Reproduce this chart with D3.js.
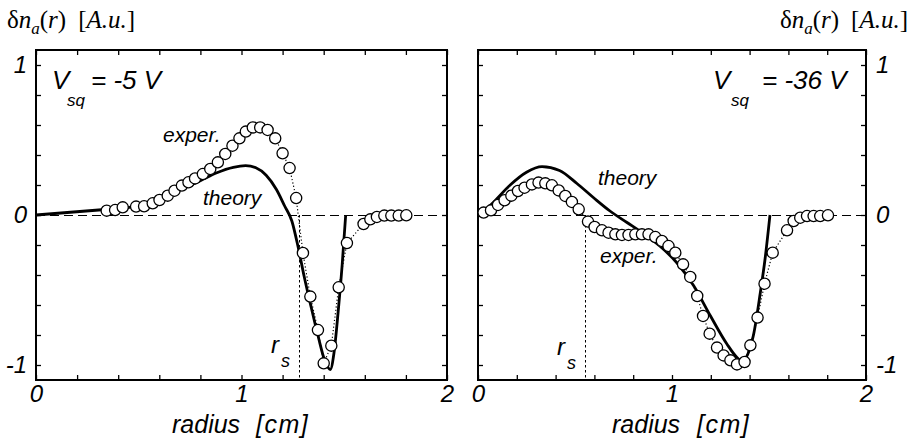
<!DOCTYPE html>
<html>
<head>
<meta charset="utf-8">
<script src="https://cdn.jsdelivr.net/npm/d3@7/dist/d3.min.js"></script>
<style>
  html, body { margin: 0; padding: 0; background: #fff; }
  svg { display: block; }
</style>
</head>
<body>
<svg id="chart" width="911" height="441"></svg>
<script>
// ---------- DATA ----------
const xTickLabels = [0, 1, 2];
const yTickLabels = [-1, 0, 1];
const minorTicksX = [0, 0.2, 0.4, 0.6, 0.8, 1, 1.2, 1.4, 1.6, 1.8, 2];
const minorTicksY = [-1, -0.8, -0.6, -0.4, -0.2, 0, 0.2, 0.4, 0.6, 0.8, 1];

const leftLabel = "-5 V";
const rightLabel = "-36 V";
const leftRs = 1.28;
const rightRs = 0.553;

const leftExpR = [0.344,0.385,0.422,0.487,0.526,0.568,0.601,0.641,0.674,0.710,0.742,0.774,0.812,0.848,0.885,0.921,0.956,0.990,1.021,1.055,1.091,1.127,1.164,1.200,1.234,1.266,1.299,1.335,1.372,1.400,1.437,1.473,1.513,1.594,1.627,1.659,1.695,1.729,1.765,1.802];
const leftExpN = [0.029,0.033,0.051,0.056,0.058,0.078,0.100,0.129,0.162,0.196,0.218,0.244,0.273,0.307,0.351,0.407,0.462,0.511,0.556,0.584,0.584,0.567,0.511,0.411,0.313,0.113,-0.253,-0.544,-0.767,-0.989,-0.871,-0.482,-0.187,-0.060,-0.029,-0.013,-0.004,-0.004,-0.004,-0.002];

const leftTheoryR = [0, 0.32, 0.45, 0.57, 0.64, 0.70, 0.80, 0.88, 0.96, 1.02, 1.07, 1.12, 1.17, 1.21, 1.245, 1.275, 1.305, 1.34, 1.375, 1.405, 1.432, 1.45, 1.47, 1.49, 1.507];
const leftTheoryN = [0, 0.035, 0.05, 0.085, 0.125, 0.167, 0.229, 0.282, 0.318, 0.329, 0.315, 0.265, 0.17, 0.06, -0.04, -0.21, -0.41, -0.62, -0.82, -0.97, -1.03, -0.92, -0.65, -0.33, 0.0];

const rightExpR = [0.029,0.067,0.103,0.137,0.172,0.206,0.240,0.278,0.312,0.347,0.381,0.416,0.450,0.484,0.519,0.567,0.601,0.639,0.673,0.708,0.742,0.776,0.811,0.845,0.879,0.914,0.948,0.982,1.017,1.057,1.094,1.130,1.160,1.194,1.232,1.266,1.301,1.335,1.374,1.404,1.441,1.477,1.519,1.593,1.627,1.661,1.696,1.730,1.764,1.804];
const rightExpN = [0.016,0.031,0.067,0.098,0.129,0.160,0.182,0.204,0.216,0.211,0.198,0.164,0.127,0.087,0.038,-0.044,-0.080,-0.102,-0.118,-0.129,-0.133,-0.133,-0.129,-0.129,-0.129,-0.147,-0.173,-0.207,-0.251,-0.329,-0.413,-0.540,-0.673,-0.791,-0.884,-0.936,-0.969,-0.996,-0.980,-0.869,-0.684,-0.458,-0.251,-0.102,-0.040,-0.018,-0.007,-0.007,-0.007,-0.002];

const rightTheoryR = [0.01, 0.08, 0.166, 0.25, 0.33, 0.42, 0.51, 0.596, 0.682, 0.768, 0.854, 0.94, 1.026, 1.111, 1.197, 1.283, 1.335, 1.36, 1.39, 1.42, 1.455, 1.48, 1.505];
const rightTheoryN = [0.0, 0.085, 0.2, 0.285, 0.322, 0.297, 0.21, 0.115, 0.025, -0.05, -0.125, -0.21, -0.32, -0.47, -0.67, -0.86, -0.95, -0.975, -0.93, -0.8, -0.52, -0.29, 0.0];

// ---------- DRAW ----------
const svg = d3.select("#chart");
const sans = "'Liberation Sans', Arial, Helvetica, sans-serif";
const serif = "'Liberation Serif', 'Times New Roman', serif";

const panels = [
  { x0: 36, x1: 447, yAxisSide: "left", expR: leftExpR, expN: leftExpN, thR: leftTheoryR, thN: leftTheoryN,
    rs: leftRs, vlabel: leftLabel, vx: 52, sqx: 67, veqx: 91, exper: [163, 142], theory: [203, 205], rsPos: [271, 353],
    radX: 172, cmX: 256, yTitleX: 7, yTitleAnchor: "start" },
  { x0: 478, x1: 866, yAxisSide: "right", expR: rightExpR, expN: rightExpN, thR: rightTheoryR, thN: rightTheoryN,
    rs: rightRs, vlabel: rightLabel, vx: 713, sqx: 731, veqx: 762, exper: [600, 263], theory: [598, 185], rsPos: [557, 355],
    radX: 612, cmX: 697, yTitleX: 908, yTitleAnchor: "end" }
];

const yTop = 50, yBot = 380;

panels.forEach(p => {
  const x = d3.scaleLinear().domain([0, 2]).range([p.x0, p.x1]);
  const y = d3.scaleLinear().domain([-1.1, 1.1]).range([yBot, yTop]);
  const g = svg.append("g");

  // zero dashed line
  g.append("line")
    .attr("x1", x(0)).attr("x2", x(2)).attr("y1", y(0) + 0.5).attr("y2", y(0) + 0.5)
    .attr("stroke", "#000").attr("stroke-width", 1).attr("stroke-dasharray", "9,5");

  // r_s dotted vertical
  g.append("line")
    .attr("x1", Math.round(x(p.rs)) + 0.5).attr("x2", Math.round(x(p.rs)) + 0.5).attr("y1", y(0)).attr("y2", yBot)
    .attr("stroke", "#000").attr("stroke-width", 1).attr("stroke-dasharray", "2.5,2.5");

  // minor ticks (inward) via d3 axes
  const tickStyle = sel => {
    sel.select(".domain").remove();
    sel.selectAll(".tick line").attr("stroke", "#000").attr("stroke-width", 1.3);
    sel.selectAll(".tick text").remove();
  };
  g.append("g").attr("transform", `translate(0,${yBot})`)
    .call(d3.axisBottom(x).tickValues(minorTicksX).tickSize(-5)).call(tickStyle);
  g.append("g").attr("transform", `translate(0,${yTop})`)
    .call(d3.axisTop(x).tickValues(minorTicksX).tickSize(-5)).call(tickStyle);
  g.append("g").attr("transform", `translate(${p.x0},0)`)
    .call(d3.axisLeft(y).tickValues(minorTicksY).tickSize(-5)).call(tickStyle);
  g.append("g").attr("transform", `translate(${p.x1},0)`)
    .call(d3.axisRight(y).tickValues(minorTicksY).tickSize(-5)).call(tickStyle);

  // tick labels
  const labStyle = sel => {
    sel.select(".domain").remove();
    sel.selectAll(".tick line").remove();
    sel.selectAll(".tick text").attr("font-family", sans).attr("font-style", "italic")
      .attr("font-size", 24).attr("fill", "#000");
  };
  g.append("g").attr("transform", `translate(0,${yBot})`)
    .call(d3.axisBottom(x).tickValues(xTickLabels).tickSize(0).tickPadding(5).tickFormat(d => String(d)))
    .call(labStyle);
  if (p.yAxisSide === "left") {
    g.append("g").attr("transform", `translate(${p.x0},0)`)
      .call(d3.axisLeft(y).tickValues(yTickLabels).tickSize(0).tickPadding(9).tickFormat(d => String(d)))
      .call(labStyle);
  } else {
    g.append("g").attr("transform", `translate(${p.x1},0)`)
      .call(d3.axisRight(y).tickValues(yTickLabels).tickSize(0).tickPadding(10).tickFormat(d => String(d)))
      .call(labStyle);
  }

  // frame
  g.append("rect").attr("x", p.x0).attr("y", yTop).attr("width", p.x1 - p.x0).attr("height", yBot - yTop)
    .attr("fill", "none").attr("stroke", "#000").attr("stroke-width", 2);

  // experimental dotted connector
  const expPts = p.expR.map((r, i) => [r, p.expN[i]]);
  const thPts = p.thR.map((r, i) => [r, p.thN[i]]);
  g.append("path").datum(expPts)
    .attr("d", d3.line().x(d => x(d[0])).y(d => y(d[1])))
    .attr("fill", "none").attr("stroke", "#000").attr("stroke-width", 1.2).attr("stroke-dasharray", "1.2,2.2");

  // theory line
  g.append("path").datum(thPts)
    .attr("d", d3.line().x(d => x(d[0])).y(d => y(d[1])).curve(d3.curveMonotoneX))
    .attr("fill", "none").attr("stroke", "#000").attr("stroke-width", 2.8).attr("stroke-linejoin", "round");

  // circles
  g.selectAll("circle.exp").data(expPts).enter().append("circle")
    .attr("class", "exp")
    .attr("cx", d => x(d[0])).attr("cy", d => y(d[1])).attr("r", 5.6)
    .attr("fill", "#fff").attr("stroke", "#000").attr("stroke-width", 1.3);

  // V_sq label
  g.append("text").attr("x", p.vx).attr("y", 89).attr("font-family", sans).attr("font-style", "italic")
    .attr("font-size", 26).text("V");
  g.append("text").attr("x", p.sqx).attr("y", 106).attr("font-family", sans).attr("font-style", "italic")
    .attr("font-size", 17).text("sq");
  g.append("text").attr("x", p.veqx).attr("y", 89).attr("font-family", sans).attr("font-style", "italic")
    .attr("font-size", 26).text("= " + p.vlabel);

  // exper / theory labels
  g.append("text").attr("x", p.exper[0]).attr("y", p.exper[1]).attr("font-family", sans).attr("font-style", "italic")
    .attr("font-size", 21).text("exper.");
  g.append("text").attr("x", p.theory[0]).attr("y", p.theory[1]).attr("font-family", sans).attr("font-style", "italic")
    .attr("font-size", 21).text("theory");

  // r_s label
  g.append("text").attr("x", p.rsPos[0]).attr("y", p.rsPos[1]).attr("font-family", sans).attr("font-style", "italic")
    .attr("font-size", 24).text("r");
  g.append("text").attr("x", p.rsPos[0] + 10).attr("y", p.rsPos[1] + 14).attr("font-family", sans).attr("font-style", "italic")
    .attr("font-size", 18).text("s");

  // x title
  g.append("text").attr("x", p.radX).attr("y", 433)
    .attr("font-family", sans).attr("font-style", "italic").attr("font-size", 25).text("radius");
  g.append("text").attr("x", p.cmX).attr("y", 433)
    .attr("font-family", sans).attr("font-style", "italic").attr("font-size", 25)
    .attr("letter-spacing", 1.5).text("[cm]");

  // y title
  const t = g.append("text").attr("x", p.yTitleX).attr("y", 28).attr("text-anchor", p.yTitleAnchor)
    .attr("font-family", serif).attr("font-size", 25);
  t.append("tspan").text("δ");
  t.append("tspan").attr("font-style", "italic").text("n");
  t.append("tspan").attr("font-style", "italic").attr("font-size", 17).attr("dy", 6).text("a");
  t.append("tspan").attr("dy", -6).text("(");
  t.append("tspan").attr("font-style", "italic").text("r");
  t.append("tspan").text(")");
  t.append("tspan").attr("dx", 12).text("[");
  t.append("tspan").attr("font-style", "italic").text("A.u.");
  t.append("tspan").text("]");
});
</script>
</body>
</html>
